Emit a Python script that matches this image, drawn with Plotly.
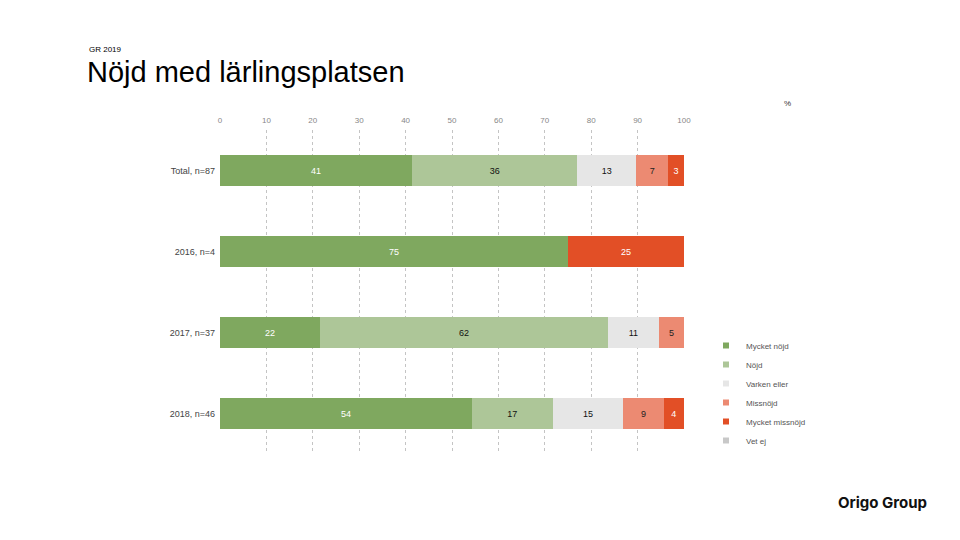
import plotly.graph_objects as go

categories = ["Total, n=87", "2016, n=4", "2017, n=37", "2018, n=46"]
series_names = ["Mycket nöjd", "Nöjd", "Varken eller", "Missnöjd", "Mycket missnöjd", "Vet ej"]
mycket_nojd = [41.4, 75.0, 21.6, 54.3]
nojd = [35.6, 0, 62.0, 17.4]
varken_eller = [12.7, 0, 11.0, 15.2]
missnojd = [6.9, 0, 5.4, 8.7]
mycket_missnojd = [3.4, 25.0, 0, 4.4]
vet_ej = [0, 0, 0, 0]
tick_vals = [0, 10, 20, 30, 40, 50, 60, 70, 80, 90, 100]

series_values = [mycket_nojd, nojd, varken_eller, missnojd, mycket_missnojd, vet_ej]
colors = ["#7FA85F", "#ADC698", "#E6E6E6", "#EC8A72", "#E24F26", "#C8C8C8"]
text_colors = ["white", "#111111", "#111111", "#222222", "white", "#111111"]

FONT = "Liberation Sans, Arial, sans-serif"

fig = go.Figure()
for name, vals, col, tcol in zip(series_names, series_values, colors, text_colors):
    fig.add_trace(go.Bar(
        y=categories, x=vals, name=name, orientation="h",
        marker=dict(color=col, line=dict(width=0)),
        text=[f"{v:.0f}" if v else "" for v in vals],
        textposition="inside", insidetextanchor="middle", textangle=0,
        textfont=dict(color=tcol, size=9, family=FONT),
        hoverinfo="text+name", showlegend=False,
    ))

# legend entries with small square markers
for name, col in zip(series_names, colors):
    fig.add_trace(go.Scatter(
        x=[None], y=[None], mode="markers", name=name,
        marker=dict(symbol="square", size=6, color=col),
        showlegend=True,
    ))

fig.update_layout(
    barmode="stack",
    bargap=0.62,
    width=960, height=540,
    paper_bgcolor="white", plot_bgcolor="white",
    margin=dict(l=220, r=276, t=130, b=86),
    font=dict(family=FONT, color="#333333"),
    uniformtext=dict(minsize=9, mode="show"),
    showlegend=True,
    legend=dict(
        x=(706 - 220) / 464, y=(540 - 86 - 331) / 324, xanchor="left", yanchor="top",
        traceorder="normal",
        font=dict(size=8, color="#555555", family=FONT),
        itemwidth=30, tracegroupgap=0,
        bgcolor="rgba(0,0,0,0)",
    ),
    xaxis=dict(
        side="top", range=[0, 100], tickvals=tick_vals,
        showgrid=True, gridcolor="#C4C4C4", griddash="3px,3px", gridwidth=1,
        zeroline=False, showline=False, ticks="",
        tickfont=dict(size=8, color="#888888", family=FONT), ticklabelstandoff=4,
    ),
    yaxis=dict(
        autorange="reversed", showgrid=False, showline=False, ticks="",
        tickfont=dict(size=9, color="#444444", family=FONT), ticklabelstandoff=4,
    ),
)

W, H = 960, 540
pl, pr, pt, pb = 220, 276, 130, 86
pw, ph = W - pl - pr, H - pt - pb

def px(x):
    return (x - pl) / pw

def py(y):
    return (H - pb - y) / ph

fig.add_annotation(text="GR 2019", x=px(87), y=py(49), xref="paper", yref="paper",
                   xanchor="left", yanchor="middle", showarrow=False,
                   font=dict(size=8, color="#000000", family=FONT))
fig.add_annotation(text="Nöjd med lärlingsplatsen", x=px(85), y=py(72), xref="paper", yref="paper",
                   xanchor="left", yanchor="middle", showarrow=False,
                   font=dict(size=29, color="#000000", family=FONT))
fig.add_annotation(text="%", x=px(787), y=py(103), xref="paper", yref="paper",
                   xanchor="center", yanchor="middle", showarrow=False,
                   font=dict(size=8, color="#333333", family=FONT))
fig.add_annotation(text="<b>Origo Group</b>", x=px(929), y=py(502), xref="paper", yref="paper",
                   xanchor="right", yanchor="middle", showarrow=False,
                   font=dict(size=15, color="#111111", family="Inter, Lato, sans-serif"))

fig.write_html("out.html", config={"displayModeBar": False},
               post_script="document.body.style.margin='0';")
